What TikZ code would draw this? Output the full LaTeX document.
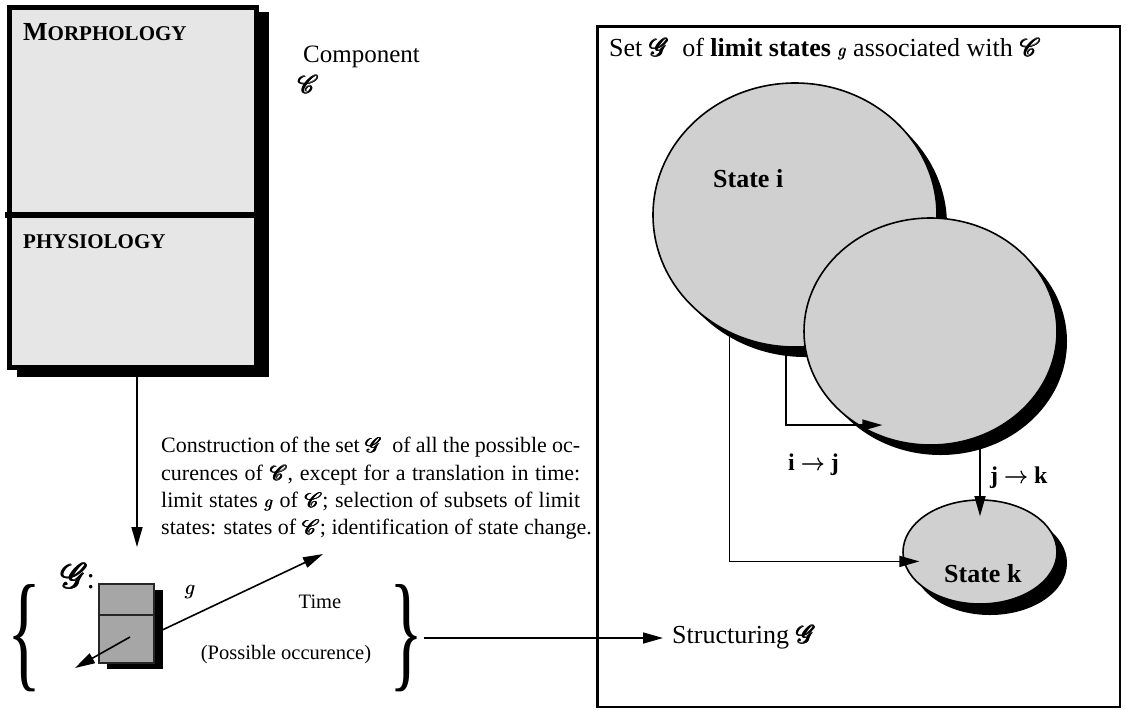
\documentclass[tikz,border=0pt]{standalone}
\usepackage{fix-cm}
\usepackage{fontspec}
\setmainfont{Liberation Serif}
\usepackage{mathrsfs}
\usetikzlibrary{arrows.meta,shapes.geometric}
\definecolor{boxgray}{RGB}{230,230,230}
\definecolor{stategray}{RGB}{208,208,208}
\definecolor{icongray}{RGB}{166,166,166}
\newcommand{\setfs}[2]{\fontsize{#1}{#2}\selectfont}
% heavier script letters: the glyph overprinted with small offsets
\newcommand{\brush}[1]{\mbox{\rlap{$\mathscr{#1}$}\rlap{\hspace{0.6pt}$\mathscr{#1}$}\rlap{\hspace{0.3pt}\raisebox{0.5pt}{$\mathscr{#1}$}}\hspace{0.9pt}$\mathscr{#1}$}}
\newcommand{\lsg}{\mbox{\setfs{17}{17}\rlap{$g$}\rlap{\hspace{0.3pt}\raisebox{0.3pt}{$g$}}\hspace{0.6pt}$g$}}
\newcommand{\thickto}{\mbox{\rlap{$\rightarrow$}\raisebox{0.7pt}{$\rightarrow$}}}
\newcommand{\jline}[1]{\makebox[419pt][s]{#1}}

\begin{document}
\begin{tikzpicture}[x=1pt,y=-1pt,
  conn/.style={line width=1.6pt,-{Triangle[length=20pt,width=11pt]}},
  lbl/.style={inner sep=0pt,anchor=base west},
  stateshape/.style={ellipse,draw,line width=1.6pt,fill=stategray,inner sep=0pt},
  shadowshape/.style={ellipse,fill=black,inner sep=0pt}]

\useasboundingbox (0,0) rectangle (1126,710);

% ---------------- component block ----------------
\node[fill=black,inner sep=0pt,minimum width=252pt,minimum height=365pt,anchor=north west] (compsh) at (17,12) {};
\node[draw,line width=5pt,fill=boxgray,inner sep=0pt,minimum width=247pt,minimum height=360pt] (comp) at (133,187.5) {};
\coordinate (cdiv) at (0,215);
\draw[line width=6pt,shorten <=-2.5pt] (comp.west |- cdiv) -- (compsh.east |- cdiv);

\node[lbl,font=\bfseries] (morph) at (23,40) {\setfs{26}{26}M\setfs{21}{21}ORPHOLOGY};
\node[lbl,font=\bfseries\setfs{21}{21}] (phys) at (23,248) {PHYSIOLOGY};
\node[lbl,font=\setfs{25}{25}] (cname) at (303,62) {Component};
\node[lbl,font=\setfs{25}{25}] (csym) at (297,93) {\brush{C}};

\coordinate (gtip) at (137,547);
\draw[conn] (compsh.south -| gtip) -- (gtip);

\node[anchor=north west,inner sep=0pt,align=left,font=\setfs{22}{27.4}] (constr) at (161,437) {%
\jline{Construction of the set \brush{G}\ \ of all the possible oc-}\\
\jline{curences of \brush{C}, except for a translation in time:}\\
\jline{limit states \lsg\ of \brush{C}; selection of subsets of limit}\\
states: states of \brush{C}; identification of state change.};

% ---------------- set of occurrences ----------------
\node[fill=black,inner sep=0pt,minimum width=55.5pt,minimum height=79pt,anchor=north west] (gbsh) at (107,590) {};
\node[draw=black!85,line width=1.5pt,fill=icongray,inner sep=0pt,minimum width=55pt,minimum height=79pt,anchor=north west] (gb) at (98,583) {};
\coordinate (gdiv) at (0,615);
\draw[black!85,line width=1.5pt] (gb.west |- gdiv) -- (gb.east |- gdiv);

\node[lbl,font=\setfs{25}{25}] (gset) at (60,588) {\scalebox{1.4}{\brush{G}}\hspace{-2pt}\scalebox{1.2}{:}};
\node[inner sep=0pt,font=\setfs{21}{21}] (glim) at (190,592) {\rlap{$g$}\hspace{0.6pt}$g$};

\coordinate (ttip) at (323,554);
\draw[conn] (gbsh.east) -- (ttip);
\coordinate (gin) at (130,637);
\coordinate (gout) at (75,668);
\draw[conn] (gin) -- (gout);

\node[inner sep=0pt,font=\setfs{20.5}{20.5}] (ttext) at (320,602) {Time};
\node[inner sep=0pt,font=\setfs{20.5}{20.5}] (occ) at (286,655) {(Possible occurence)};

\node[inner sep=0pt] (lbr) at (25,638) {\resizebox{34pt}{90pt}{\{}};
\node[inner sep=0pt] (rbr) at (407,638) {\resizebox{34pt}{90pt}{\}}};

% ---------------- limit states ----------------
\node[draw,line width=2.5pt,inner sep=0pt,minimum width=522.5pt,minimum height=680.5pt] (setbox) at (858.5,366.5) {};
\node[lbl,font=\setfs{26}{26}] (settitle) at (609,56) {Set \brush{G}\ \ of \textbf{limit states} \lsg{} associated with \brush{C}};

\node[shadowshape,minimum width=284pt,minimum height=264pt] (sish) at (805,225) {};
\node[stateshape,minimum width=284pt,minimum height=264pt] (si) at (795,215) {};
\node[shadowshape,minimum width=253pt,minimum height=227pt] (sjsh) at (940.5,341.5) {};
\node[stateshape,minimum width=253pt,minimum height=227pt] (sj) at (930.5,331.5) {};
\node[shadowshape,minimum width=154pt,minimum height=104pt] (sksh) at (990,563) {};
\node[stateshape,minimum width=154pt,minimum height=104pt] (sk) at (980,552) {};

\node[lbl,font=\bfseries\setfs{26}{26}] (silbl) at (713,187) {State i};
\node[lbl,font=\bfseries\setfs{26}{26}] (sklbl) at (944,582) {State k};
\node[anchor=west,inner sep=0pt,font=\bfseries\setfs{24}{24}] (ijlbl) at (788,465) {i \thickto\ j};
\node[anchor=west,inner sep=0pt,font=\bfseries\setfs{24}{24}] (jklbl) at (990,478) {j \thickto\ k};

\draw[conn,shorten >=-25pt] (si.-94) |- (sj.-128.5);
\draw[conn,shorten >=-16pt] (si.-119) |- (sk.187.5);
\draw[conn,shorten >=-17pt] (sjsh.-60 -| sk.north) -- (sk.north);

\node[lbl,font=\setfs{26}{26}] (struct) at (672,643) {Structuring \brush{G}};
\draw[conn,shorten >=9pt] (rbr.east) -- (rbr.east -| struct.west);

\end{tikzpicture}
\end{document}
